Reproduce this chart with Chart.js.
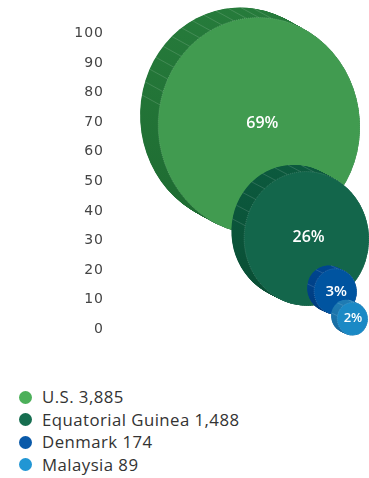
<!DOCTYPE html>
<html lang="en">
<head>
    <meta charset="UTF-8">
    <meta name="viewport" content="width=device-width, initial-scale=1.0">
    <title>Bubbles</title>
    <script src="https://cdn.jsdelivr.net/npm/chart.js"></script>
    <style>
        body { margin: 0; background: #fff; font-family: "Open Sans", sans-serif; }
        .wrap { position: relative; width: 369px; height: 478px; }
        #legend { list-style: none; margin: 0; padding: 0; position: absolute; left: 0; top: 386px; }
        #legend li { position: relative; height: 22.5px; line-height: 22.5px; padding-left: 42px; font-size: 16.8px; color: #333; letter-spacing: 0.45px; white-space: nowrap; }
        #legend li span { position: absolute; left: 18.5px; top: 4.75px; width: 13px; height: 13px; border-radius: 50%; }
    </style>
</head>
<body>
    <div class="wrap">
        <canvas id="myChart" width="369" height="350"></canvas>
        <ul id="legend"></ul>
    </div>

    <script>
        var countries = ['U.S.', 'Equatorial Guinea', 'Denmark', 'Malaysia'];
        var counts = [3885, 1488, 174, 89];
        var xValues = [57.4, 75.8, 87.0, 93.6];
        var yValues = [68.7, 30.6, 12.7, 3.5];

        var faceColors = ['#419b50', '#13664b', '#0054a0', '#1b89c5'];
        var sideTop = ['#267b3b', '#0c5a3e', '#004690', '#1f7cb4'];
        var sideBottom = ['#1d6a31', '#094d34', '#003a7c', '#16689d'];
        var legendColors = ['#4cb05a', '#166e50', '#0a5aa9', '#2196d4'];

        var total = counts.reduce(function (a, b) { return a + b; }, 0);

        // draws one bubble as an extruded disc, back face offset up-left
        function drawDisc(ctx, cx, cy, r, i, label) {
            var rx = r * 0.93, ry = r, tilt = -0.06;
            var dx = -(4 + 0.13 * r), dy = -(1.5 + 0.078 * r);
            var steps = Math.ceil(Math.hypot(dx, dy) * 2);
            ctx.save();
            var grad = ctx.createLinearGradient(0, cy - r + dy, 0, cy + r);
            grad.addColorStop(0, sideTop[i]);
            grad.addColorStop(1, sideBottom[i]);
            ctx.fillStyle = grad;
            for (var s = steps; s >= 0; s--) {
                var f = s / steps;
                ctx.beginPath();
                ctx.ellipse(cx + dx * f, cy + dy * f, rx, ry, tilt, 0, Math.PI * 2);
                ctx.fill();
            }

            // faint seams on the rim
            ctx.strokeStyle = 'rgba(255,255,255,0.2)';
            ctx.lineWidth = 0.7;
            var a0 = Math.PI * 1.08, a1 = Math.PI * 1.56;
            var n = Math.max(2, Math.round((a1 - a0) * r / 14));
            for (var k = 0; k <= n; k++) {
                var t = a0 + (a1 - a0) * k / n;
                var px = rx * Math.cos(t) * Math.cos(tilt) - ry * Math.sin(t) * Math.sin(tilt);
                var py = rx * Math.cos(t) * Math.sin(tilt) + ry * Math.sin(t) * Math.cos(tilt);
                ctx.beginPath();
                ctx.moveTo(cx + px, cy + py);
                ctx.lineTo(cx + px + dx, cy + py + dy);
                ctx.stroke();
            }

            ctx.fillStyle = faceColors[i];
            ctx.beginPath();
            ctx.ellipse(cx, cy, rx, ry, tilt, 0, Math.PI * 2);
            ctx.fill();
            ctx.strokeStyle = 'rgba(255,255,255,0.3)';
            ctx.lineWidth = 0.6;
            ctx.setLineDash([1, 1]);
            ctx.stroke();
            ctx.setLineDash([]);

            ctx.letterSpacing = '0px';
            ctx.fillStyle = '#fff';
            ctx.font = '600 ' + Math.round(Math.min(16, 8 + r * 0.3)) + 'px "Open Sans"';
            ctx.textAlign = 'center';
            ctx.textBaseline = 'middle';
            ctx.fillText(label, cx + r * 0.03, cy - r * 0.02);
            ctx.restore();
        }

        var discPlugin = {
            id: 'discs',
            beforeDraw: function (chart) {
                chart.ctx.letterSpacing = '1px';
            },
            beforeDatasetsDraw: function (chart) {
                chart.ctx.letterSpacing = '0px';
            },
            afterDatasetsDraw: function (chart) {
                chart.data.datasets.forEach(function (ds, i) {
                    var el = chart.getDatasetMeta(i).data[0];
                    var pct = Math.round(counts[i] / total * 100) + '%';
                    drawDisc(chart.ctx, el.x, el.y, el.options.radius, i, pct);
                });
            }
        };

        var datasets = countries.map(function (name, i) {
            return {
                label: name + ' ' + counts[i].toLocaleString('en-US'),
                data: [{ x: xValues[i], y: yValues[i], r: 1.74 * Math.sqrt(counts[i]) }],
                backgroundColor: 'rgba(0,0,0,0)',
                borderWidth: 0,
                clip: false
            };
        });

        new Chart(document.getElementById('myChart'), {
            type: 'bubble',
            data: { datasets: datasets },
            options: {
                responsive: false,
                animation: false,
                events: [],
                layout: { autoPadding: false, padding: { left: 67, top: 33.3, bottom: 20.7, right: 0 } },
                plugins: { legend: { display: false }, tooltip: { enabled: false } },
                scales: {
                    x: { type: 'linear', display: false, min: 0, max: 100 },
                    y: {
                        min: 0,
                        max: 100,
                        ticks: { stepSize: 10, padding: 7, color: '#444', font: { family: 'DejaVu Sans', size: 14 } },
                        grid: { display: false, drawTicks: false },
                        border: { display: false },
                        afterFit: function (scale) { scale.width = 44; }
                    }
                }
            },
            plugins: [discPlugin]
        });

        var legend = document.getElementById('legend');
        countries.forEach(function (name, i) {
            var li = document.createElement('li');
            li.innerHTML = '<span style="background:' + legendColors[i] + '"></span>' + name + ' ' + counts[i].toLocaleString('en-US');
            legend.appendChild(li);
        });
    </script>
</body>
</html>
